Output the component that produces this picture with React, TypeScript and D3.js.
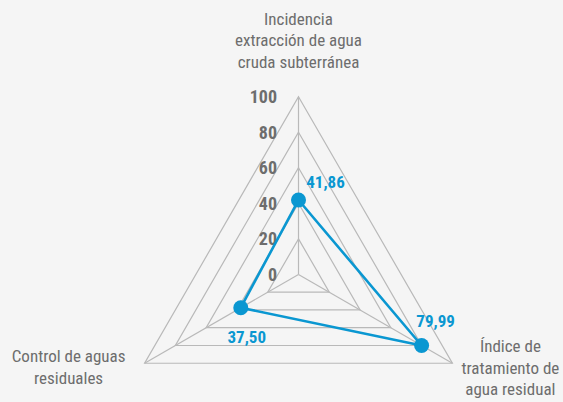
import * as d3 from "d3";

const AXES = [
  ["Incidencia", "extracción de agua", "cruda subterránea"],
  ["Índice de", "tratamiento de", "agua residual"],
  ["Control de aguas", "residuales"],
];
const VALUES = [41.86, 79.99, 37.5];
const VALUE_LABELS = ["41,86", "79,99", "37,50"];
const TICKS = [0, 20, 40, 60, 80, 100];

const W = 563, H = 402;
const CX = 298.5, CY = 274.4, R = 177.7;
const BLUE = "#0a97d1";
const GRID = "#b9b9b9";
const FONT = "'Liberation Sans Narrow', 'Roboto Condensed', Roboto, sans-serif";

export default function App() {
  const r = d3.scaleLinear().domain([0, 100]).range([0, R]);
  const angle = (i: number) => -Math.PI / 2 + (i * 2 * Math.PI) / AXES.length;
  const pt = (i: number, rad: number) => [CX + Math.cos(angle(i)) * rad, CY + Math.sin(angle(i)) * rad] as const;
  const tri = (rad: number) => AXES.map((_a, i) => pt(i, rad).join(",")).join(" ");
  const pts = VALUES.map((v, i) => pt(i, r(v)));
  const line = d3.line().curve(d3.curveLinearClosed)(pts as [number, number][]) ?? "";

  // text placement relative to each vertex
  const axisLabel = [
    { dx: 0, dy: -72, anchor: "middle" },
    { dx: 58, dy: -11, anchor: "middle" },
    { dx: -76, dy: -1, anchor: "middle" },
  ];
  const valueOff = [
    { dx: 27, dy: -12 },
    { dx: 14, dy: -18 },
    { dx: 6, dy: 35 },
  ];

  return (
    <div style={{ position: "fixed", left: 0, top: 0, width: W, height: H, background: "#f5f5f5" }}>
      <svg width={W} height={H} style={{ display: "block" }}>
        {TICKS.filter((t) => t > 0).map((t) => (
          <polygon key={t} points={tri(r(t))} fill="none" stroke={GRID} strokeWidth={1.2} />
        ))}
        {AXES.map((_a, i) => {
          const [x, y] = pt(i, R);
          return <line key={i} x1={CX} y1={CY} x2={x} y2={y} stroke={GRID} strokeWidth={1.2} />;
        })}
        {TICKS.map((t) => (
          <text key={t} x={277} y={CY - r(t) + 6.5} textAnchor="end" fill="#6d6d6d" fontSize={18} fontWeight="bold" fontFamily={FONT}>
            {t}
          </text>
        ))}
        {AXES.map((lines, i) => {
          const [x, y] = pt(i, R);
          const o = axisLabel[i];
          return (
            <text key={i} x={x + o.dx} y={y + o.dy} textAnchor={o.anchor} fill="#6d6d6d" fontSize={17} fontFamily={FONT}>
              {lines.map((l, j) => (
                <tspan key={j} x={x + o.dx} dy={j === 0 ? 0 : 21.5}>{l}</tspan>
              ))}
            </text>
          );
        })}
        <path d={line} fill="none" stroke={BLUE} strokeWidth={2.6} strokeLinejoin="round" />
        {pts.map(([x, y], i) => (
          <g key={i}>
            <circle cx={x} cy={y} r={7.5} fill={BLUE} />
            <text x={x + valueOff[i].dx} y={y + valueOff[i].dy} textAnchor="middle" fill={BLUE} fontSize={17} fontWeight="bold" fontFamily={FONT}>
              {VALUE_LABELS[i]}
            </text>
          </g>
        ))}
      </svg>
    </div>
  );
}
